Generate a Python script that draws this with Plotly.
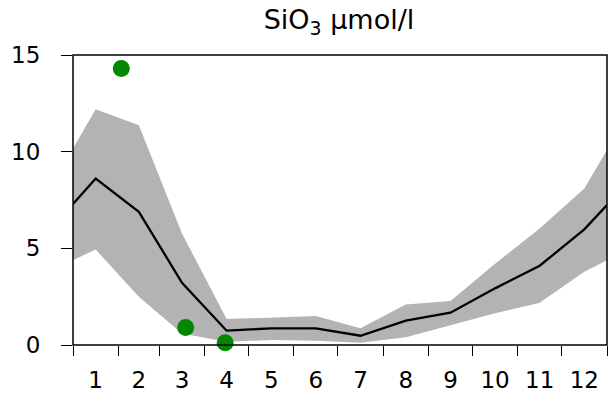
import plotly.graph_objects as go

# ---- data ----
month_labels = ["1", "2", "3", "4", "5", "6", "7", "8", "9", "10", "11", "12"]
month_days = [31, 28, 31, 30, 31, 30, 31, 31, 30, 31, 30, 31]

# values at year start (day 0), at each month centre, and at year end (day 365)
mean_vals = [7.29, 8.61, 6.89, 3.22, 0.74, 0.86, 0.86, 0.48, 1.26, 1.67, 2.93, 4.10, 5.98, 7.24]
upper_vals = [10.16, 12.2, 11.37, 5.77, 1.34, 1.43, 1.50, 0.86, 2.10, 2.27, 4.2, 6.03, 8.1, 10.08]
lower_vals = [4.39, 4.94, 2.5, 0.6, 0.17, 0.26, 0.22, 0.12, 0.4, 1.03, 1.64, 2.19, 3.79, 4.39]

obs_day = [33, 77, 104]
obs_val = [14.3, 0.9, 0.12]

y_ticks = [0, 5, 10, 15]

# ---- derived positions ----
bounds = [0]
for d in month_days:
    bounds.append(bounds[-1] + d)
centres = [(bounds[i] + bounds[i + 1]) / 2 for i in range(12)]
xs = [bounds[0]] + centres + [bounds[-1]]

FONT = "DejaVu Sans, Arial, sans-serif"
TICKSIZE = 23

fig = go.Figure()
fig.add_trace(go.Scatter(x=xs, y=lower_vals, mode="lines", line=dict(width=0),
                         hoverinfo="skip", showlegend=False))
fig.add_trace(go.Scatter(x=xs, y=upper_vals, mode="lines", line=dict(width=0),
                         fill="tonexty", fillcolor="#b3b3b3",
                         hoverinfo="skip", showlegend=False))
fig.add_trace(go.Scatter(x=xs, y=mean_vals, mode="lines",
                         line=dict(color="black", width=2.3), showlegend=False))
fig.add_trace(go.Scatter(x=obs_day, y=obs_val, mode="markers",
                         marker=dict(color="#008800", size=17, line=dict(width=0)),
                         cliponaxis=False, showlegend=False))
# invisible trace to activate the label axis
fig.add_trace(go.Scatter(x=centres, y=[None] * 12, xaxis="x2", showlegend=False,
                         hoverinfo="skip"))

# plot frame
fig.add_shape(type="rect", xref="paper", yref="paper", x0=0, x1=1, y0=0, y1=1,
              line=dict(color="black", width=1.5), fillcolor="rgba(0,0,0,0)", layer="above")

fig.update_layout(
    width=613, height=405,
    margin=dict(l=73, r=6, t=55, b=60, autoexpand=False),
    paper_bgcolor="white", plot_bgcolor="white",
    font=dict(family=FONT, size=TICKSIZE, color="black"),
    title=dict(text="SiO<sub>3</sub> µmol/l", x=0.553, xref="container", xanchor="center",
               y=0.952, yanchor="middle", font=dict(family=FONT, size=27, color="black")),
    xaxis=dict(range=[bounds[0], bounds[-1]], tickmode="array", tickvals=bounds,
               showticklabels=False, ticks="outside", ticklen=10, tickwidth=1.3,
               tickcolor="black", showline=False, showgrid=False, zeroline=False,
               automargin=False),
    xaxis2=dict(range=[bounds[0], bounds[-1]], overlaying="x", side="bottom",
                tickmode="array", tickvals=centres, ticktext=month_labels,
                ticks="", showline=False, showgrid=False, zeroline=False,
                automargin=False, ticklabelstandoff=19,
                tickfont=dict(family=FONT, size=TICKSIZE, color="black")),
    yaxis=dict(range=[0, 15], tickmode="array", tickvals=y_ticks,
               ticks="outside", ticklen=11, tickwidth=1.3, tickcolor="black",
               showline=False, showgrid=False, zeroline=False, automargin=False,
               ticklabelstandoff=16,
               tickfont=dict(family=FONT, size=TICKSIZE, color="black")),
)

fig.write_html("out.html", config={"displayModeBar": False},
               post_script="document.body.style.margin='0';document.body.style.overflow='hidden';")
